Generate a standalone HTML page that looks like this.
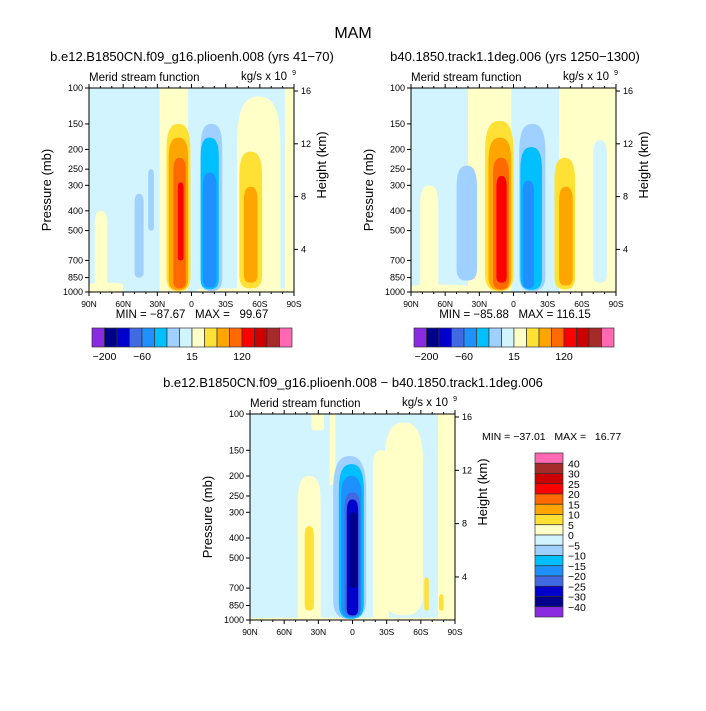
<!DOCTYPE html>
<html><head><meta charset="utf-8"><style>
body{margin:0;background:#fff}
svg text{font-family:"Liberation Sans",sans-serif;fill:#000;white-space:pre}
</style></head><body>
<svg id="c" width="706" height="706" xmlns="http://www.w3.org/2000/svg"></svg>
<script>
const colors=["#8a2be2","#00008b","#0000cd","#4169e1","#1e90ff","#00bfff","#a0d0ff","#d2f4ff","#ffffc8","#ffe135","#ffa500","#ff6a00","#ff0000","#cd0000","#a52a2a","#ff69b4"];
const topBarLabels=["-200","-60","15","120"];
const topBarLabelIdx=[1,4,8,12];
const diffBarLabels=["40","30","25","20","15","10","5","0","-5","-10","-15","-20","-25","-30","-40"];
const pTicks=[100,150,200,250,300,400,500,700,850,1000];
const latTicks=[90,60,30,0,-30,-60,-90];
const latLabels=["90N","60N","30N","0","30S","60S","90S"];
const hTicks=[16,12,8,4];
// cells: [lat1, lat2, pTop, pBottom, colorIndex]
const cells1=[[28,3,100,1000,8],[-40,-78,110,1000,8],[-82,-90,100,1000,8],[85,74,400,1000,8],[90,60,900,1000,8],[-5,-90,960,1000,8],
[50,42,330,850,6],[38,33,250,500,6],
[22,1,150,990,9],[20,3,175,980,10],[16,5,220,960,11],[12,7,290,700,12],
[-8,-27,150,990,6],[-8,-24,175,970,5],[-10,-22,260,950,4],
[-42,-62,205,960,9],[-46,-58,305,900,10]];
const cells2=[[40,2,100,1000,8],[-40,-90,100,1000,8],[82,66,300,1000,8],[90,40,920,1000,8],[-70,-82,180,900,7],
[50,32,240,880,6],
[25,0,145,990,9],[22,2,175,980,10],[18,4,220,970,11],[15,6,270,900,12],
[-5,-28,150,990,6],[-6,-25,195,975,5],[-8,-18,285,960,4],
[-36,-54,220,970,9],[-40,-52,305,930,10]];
const cells3=[[48,28,200,1000,8],[36,25,100,120,8],[15,20,100,220,8],[-18,-32,150,1000,8],[-28,-62,110,950,8],[90,-90,975,1000,8],[-75,-90,100,1000,8],
[42,34,350,900,9],[-63,-67,620,900,9],[-76,-80,750,900,9],
[17,-12,160,990,6],[12,-10,175,985,5],[10,-8,200,975,4],[7,-7,240,960,3],[5,-5,260,950,2],[3,-4,300,700,1]];
const svg=document.getElementById('c');
const NS="http://www.w3.org/2000/svg";
function el(t,a,p){const e=document.createElementNS(NS,t);for(const k in a)e.setAttribute(k,a[k]);(p||svg).appendChild(e);return e;}
function txt(x,y,s,size,anchor,p,rot){const e=el('text',{x:x,y:y,'font-size':size,'text-anchor':anchor||'middle'},p);if(rot)e.setAttribute('transform','rotate(-90 '+x+' '+y+')');e.textContent=s;return e;}
function panel(x0,y0,W,H,cells,name){
  const g=el('g',{});
  
  
  const xs=lat=>x0+(90-lat)/180*W;
  const ys=p=>y0+Math.log(p/100)/Math.log(10)*H;
  el('rect',{x:x0,y:y0,width:W,height:H,fill:colors[7]},g);
  for(const c of cells){
    const a=xs(c[0]),b=xs(c[1]),t=ys(c[2]),bt=Math.min(ys(c[3]),y0+H);
    const w=b-a,h=bt-t;
    const topCap=(c[2]<=100)?0:Math.min(h*0.3,w*1.1);
    const botCap=(c[3]>=1000)?0:Math.min(h*0.15,w*0.6);
    const d='M'+a+','+(t+topCap)+' C'+a+','+(t+topCap*0.2)+' '+(a+w*0.2)+','+t+' '+(a+w/2)+','+t+
      ' C'+(b-w*0.2)+','+t+' '+b+','+(t+topCap*0.2)+' '+b+','+(t+topCap)+
      ' L'+b+','+(bt-botCap)+' C'+b+','+(bt-botCap*0.2)+' '+(b-w*0.2)+','+bt+' '+(a+w/2)+','+bt+
      ' C'+(a+w*0.2)+','+bt+' '+a+','+(bt-botCap*0.2)+' '+a+','+(bt-botCap)+'Z';
    const r=el('path',{d:d,fill:colors[c[4]]},g);
    
    
  }
  el('rect',{x:x0,y:y0,width:W,height:H,fill:'none',stroke:'#000','stroke-width':1},g);
  pTicks.forEach(p=>{const y=ys(p);el('line',{x1:x0-4,x2:x0,y1:y,y2:y,stroke:'#000'},g);txt(x0-6,y+3,String(p),9,'end',g);});
  for(let l=90;l>=-90;l-=10){const x=xs(l);const m=l%30==0?4:2;el('line',{x1:x,x2:x,y1:y0+H,y2:y0+H+m,stroke:'#000'},g);el('line',{x1:x,x2:x,y1:y0,y2:y0-m,stroke:'#000'},g);}
  latTicks.forEach((l,i)=>txt(xs(l),y0+H+15,latLabels[i],8.5,'middle',g));
  hTicks.forEach(h=>{const y=y0+3+(16-h)*13.2*H/204;el('line',{x1:x0+W,x2:x0+W+4,y1:y,y2:y,stroke:'#000'},g);txt(x0+W+7,y+3,String(h),9,'start',g);});
  const yl=txt(x0-38,y0+H/2,'Pressure (mb)',13,'middle',g,true);yl.setAttribute('fill','#444');
  const hl=txt(x0+W+32,y0+H/2-25,'Height (km)',13,'middle',g,true);hl.setAttribute('fill','#444');
  txt(x0,y0-7,'Merid stream function',11.5,'start',g);
  txt(x0+W-7,y0-8,'kg/s x 10',11.5,'end',g);
  txt(x0+W+2,y0-13,'9',7,'end',g);
}
function hbar(x0,y0,name){
  const g=el('g',{});
  const w=12.5;
  colors.forEach((c,i)=>{const r=el('rect',{x:x0+i*w,y:y0,width:w,height:19,fill:c,stroke:'#333','stroke-width':0.7},g);});
  topBarLabels.forEach((s,i)=>txt(x0+topBarLabelIdx[i]*w,y0+32,s.replace('-','\u2212'),10.5,'middle',g));
}
txt(353,38,'MAM',16,'middle');
txt(192,61,'b.e12.B1850CN.f09_g16.plioenh.008 (yrs 41\u221270)',13);
txt(515,61,'b40.1850.track1.1deg.006 (yrs 1250\u22121300)',13);
txt(353,387,'b.e12.B1850CN.f09_g16.plioenh.008 \u2212 b40.1850.track1.1deg.006',13);
panel(89,88,205,204,cells1,'panel-left');
panel(411,88,205,204,cells2,'panel-right');
panel(250,414,205,206,cells3,'panel-diff');
txt(192,318,'MIN = \u221287.67   MAX =   99.67',11.5);
txt(515,318,'MIN = \u221285.88   MAX = 116.15',11.5);
txt(482,440,'MIN = \u221237.01   MAX =   16.77',10.5,'start');
hbar(92,328,'colorbar-left');
hbar(414,328,'colorbar-right');
(function(){
  const g=el('g',{});
  const h=10.25,x0=535,y0=453;
  for(let i=0;i<16;i++){const r=el('rect',{x:x0,y:y0+i*h,width:28,height:h,fill:colors[15-i],stroke:'#333','stroke-width':0.7},g);}
  diffBarLabels.forEach((s,i)=>txt(x0+33,y0+(i+1)*h+4,s.replace('-','\u2212'),10.5,'start',g));
})();
</script>
</body></html>
